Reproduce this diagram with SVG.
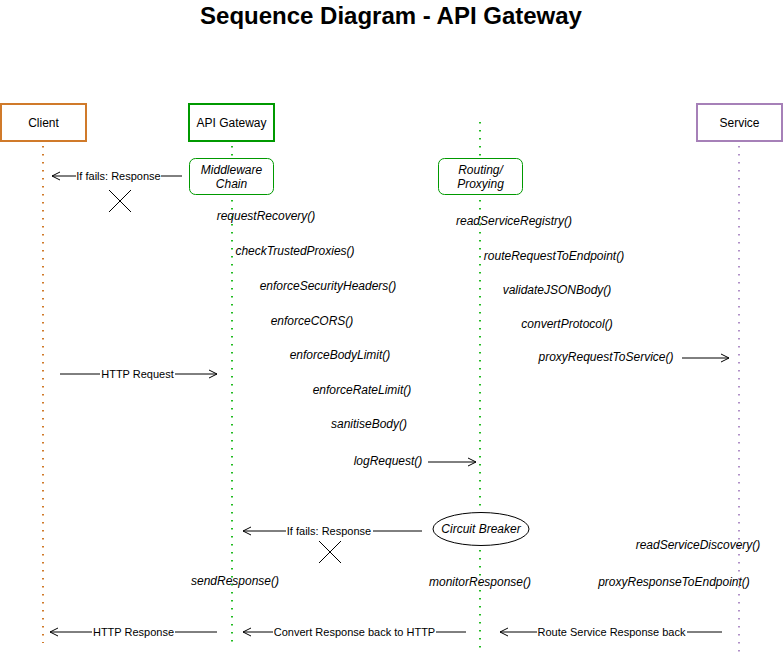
<svg xmlns="http://www.w3.org/2000/svg" width="783" height="657" viewBox="0 0 783 657">
<style>
text{font-family:"Liberation Sans",Arial,sans-serif;fill:#000}
.lbl{font-size:11px;text-anchor:middle}
.it{font-size:12px;font-style:italic;text-anchor:middle}
.nd{font-size:12px;text-anchor:middle}
.ll{fill:none;stroke-width:2;stroke-dasharray:1.5 6.5}
.msg{fill:none;stroke:#000;stroke-width:1}
.bg{fill:#fff}
</style>
<defs>
<marker id="ah" markerUnits="userSpaceOnUse" markerWidth="10" markerHeight="10" refX="9" refY="5" orient="auto">
<path d="M1,1 L9,5 L1,9" fill="none" stroke="#000" stroke-width="1"/>
</marker>
</defs>
<rect width="783" height="657" fill="#fff"/>
<text x="391" y="24" font-size="24" font-weight="bold" text-anchor="middle">Sequence Diagram - API Gateway</text>

<g id="lifelines">
<line class="ll" x1="43" y1="146" x2="43" y2="643" stroke="#D07A2A"/>
<line class="ll" x1="232" y1="146" x2="232" y2="158" stroke="#22BB22"/>
<line class="ll" x1="232" y1="200" x2="232" y2="648" stroke="#22BB22"/>
<line class="ll" x1="480" y1="122" x2="480" y2="158" stroke="#22BB22"/>
<line class="ll" x1="480" y1="200" x2="480" y2="512" stroke="#22BB22"/>
<line class="ll" x1="480" y1="550" x2="480" y2="648" stroke="#22BB22"/>
<line class="ll" x1="739" y1="146" x2="739" y2="657" stroke="#B090C8"/>
</g>

<g id="client">
<rect x="1" y="104" width="85" height="37" fill="#fff" stroke="#D07A2A" stroke-width="2"/>
<text class="nd" x="43.5" y="127">Client</text>
</g>
<g id="api-gateway">
<rect x="189" y="104" width="85" height="37" fill="#fff" stroke="#009900" stroke-width="2"/>
<text class="nd" x="231.5" y="127">API Gateway</text>
</g>
<g id="service">
<rect x="697" y="104" width="85" height="37" fill="#fff" stroke="#A680B8" stroke-width="2"/>
<text class="nd" x="739.5" y="127">Service</text>
</g>
<g id="middleware-chain">
<rect x="189.5" y="158.5" width="84" height="36" rx="6" fill="#fff" stroke="#009900" stroke-width="1"/>
<text class="it" x="231.5" y="174">Middleware</text>
<text class="it" x="231.5" y="188">Chain</text>
</g>
<g id="routing-proxying">
<rect x="438.5" y="158.5" width="84" height="36" rx="6" fill="#fff" stroke="#009900" stroke-width="1"/>
<text class="it" x="480.5" y="174">Routing/</text>
<text class="it" x="480.5" y="188">Proxying</text>
</g>
<g id="circuit-breaker">
<ellipse cx="481" cy="529" rx="48" ry="16.5" fill="#fff" stroke="#000" stroke-width="1"/>
<text class="it" x="481" y="533">Circuit Breaker</text>
</g>

<g id="calls">
<text class="it" x="266" y="220">requestRecovery()</text>
<text class="it" x="295" y="255">checkTrustedProxies()</text>
<text class="it" x="328" y="290">enforceSecurityHeaders()</text>
<text class="it" x="312" y="325">enforceCORS()</text>
<text class="it" x="340" y="359">enforceBodyLimit()</text>
<text class="it" x="362" y="394">enforceRateLimit()</text>
<text class="it" x="369" y="428">sanitiseBody()</text>
<text class="it" x="388" y="465">logRequest()</text>
<text class="it" x="235" y="585">sendResponse()</text>
<text class="it" x="514" y="225">readServiceRegistry()</text>
<text class="it" x="554" y="260">routeRequestToEndpoint()</text>
<text class="it" x="557" y="294">validateJSONBody()</text>
<text class="it" x="567" y="328">convertProtocol()</text>
<text class="it" x="606" y="361">proxyRequestToService()</text>
<text class="it" x="480" y="586">monitorResponse()</text>
<text class="it" x="698" y="549">readServiceDiscovery()</text>
<text class="it" x="674" y="586">proxyResponseToEndpoint()</text>
</g>

<g id="connectors">
<line class="msg" x1="182" y1="176" x2="52" y2="176" marker-end="url(#ah)"/>
<rect class="bg" x="76" y="169" width="85" height="14"/>
<text class="lbl" x="118.5" y="180">If fails: Response</text>
<path class="msg" d="M109,190 L131,212 M131,190 L109,212"/>

<line class="msg" x1="60" y1="374" x2="217" y2="374" marker-end="url(#ah)"/>
<rect class="bg" x="100" y="367" width="75" height="14"/>
<text class="lbl" x="137.5" y="378">HTTP Request</text>

<line class="msg" x1="428" y1="462" x2="476" y2="462" marker-end="url(#ah)"/>
<line class="msg" x1="682" y1="358" x2="729" y2="358" marker-end="url(#ah)"/>

<line class="msg" x1="422" y1="531" x2="243" y2="531" marker-end="url(#ah)"/>
<rect class="bg" x="286" y="524" width="87" height="14"/>
<text class="lbl" x="329" y="535">If fails: Response</text>
<path class="msg" d="M319,541 L341,563 M341,541 L319,563"/>

<line class="msg" x1="217" y1="632" x2="50" y2="632" marker-end="url(#ah)"/>
<rect class="bg" x="92" y="625" width="83" height="14"/>
<text class="lbl" x="133.5" y="636">HTTP Response</text>

<line class="msg" x1="466" y1="632" x2="243" y2="632" marker-end="url(#ah)"/>
<rect class="bg" x="273" y="625" width="163" height="14"/>
<text class="lbl" x="354.5" y="636">Convert Response back to HTTP</text>

<line class="msg" x1="722" y1="632" x2="500" y2="632" marker-end="url(#ah)"/>
<rect class="bg" x="537" y="625" width="150" height="14"/>
<text class="lbl" x="611.5" y="636">Route Service Response back</text>
</g>
</svg>
